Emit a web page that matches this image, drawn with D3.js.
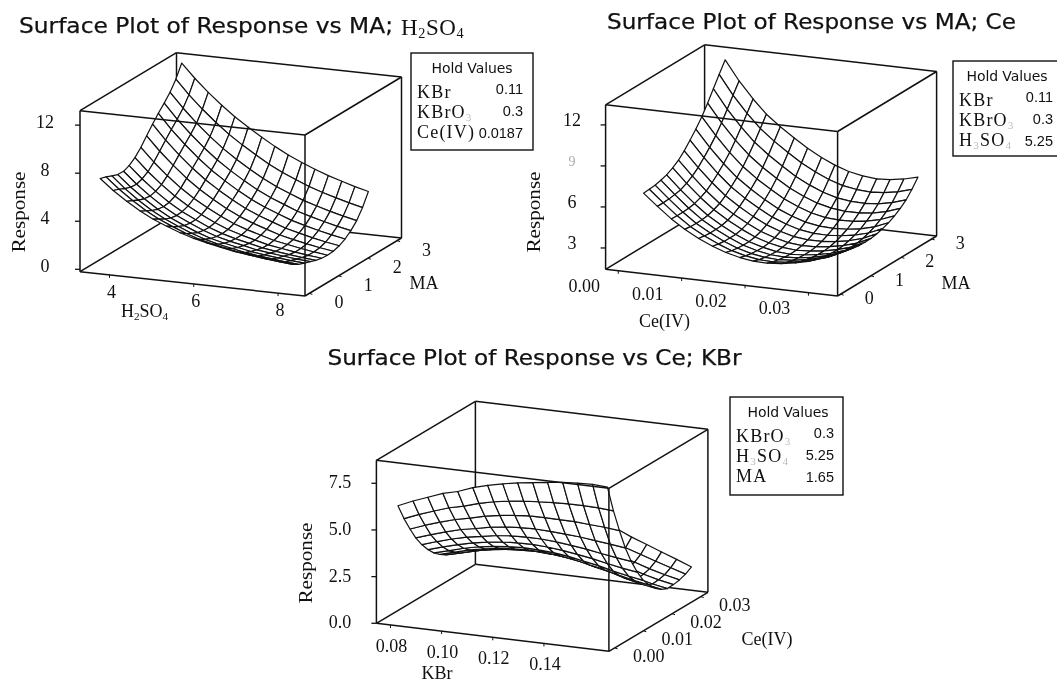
<!DOCTYPE html>
<html>
<head>
<meta charset="utf-8">
<script src="https://cdn.jsdelivr.net/npm/d3@7"></script>
<style>
  html, body { margin: 0; background: #fff; }
  svg { display: block; filter: blur(0.3px); }
</style>
</head>
<body>
<svg id="chart" width="1057" height="682"></svg>
<script>
// --- panel A: Response vs MA; H2SO4
const acidGridA = [3.57, 3.88, 4.2, 4.52, 4.83, 5.15, 5.47, 5.78, 6.1, 6.42, 6.73, 7.05, 7.37, 7.68, 8.0];
const maGridA = [0.15, 0.35, 0.55, 0.75, 0.95, 1.14, 1.34, 1.54, 1.74, 1.94, 2.14, 2.34, 2.54, 2.74, 2.94];
const responseA = [
  [7.22, 6.34, 5.56, 4.87, 4.31, 3.85, 3.42, 3.08, 2.81, 2.58, 2.37, 2.22, 2.09, 1.97, 1.87],
  [7.06, 6.15, 5.33, 4.6, 4.02, 3.52, 3.07, 2.71, 2.42, 2.2, 1.97, 1.82, 1.68, 1.56, 1.46],
  [6.85, 5.91, 5.07, 4.33, 3.74, 3.24, 2.78, 2.41, 2.12, 1.89, 1.66, 1.52, 1.38, 1.26, 1.16],
  [6.67, 5.73, 4.89, 4.14, 3.53, 3.02, 2.56, 2.19, 1.91, 1.68, 1.46, 1.31, 1.17, 1.06, 0.97],
  [6.65, 5.69, 4.82, 4.06, 3.44, 2.92, 2.44, 2.06, 1.78, 1.54, 1.3, 1.16, 1.02, 0.9, 0.81],
  [6.85, 5.85, 4.94, 4.14, 3.49, 2.93, 2.42, 2.02, 1.71, 1.45, 1.19, 1.03, 0.88, 0.75, 0.64],
  [7.22, 6.16, 5.21, 4.36, 3.66, 3.07, 2.52, 2.07, 1.73, 1.43, 1.15, 0.97, 0.79, 0.64, 0.52],
  [7.77, 6.66, 5.65, 4.75, 4.0, 3.35, 2.76, 2.26, 1.87, 1.54, 1.22, 1.01, 0.8, 0.63, 0.48],
  [8.45, 7.28, 6.22, 5.26, 4.45, 3.74, 3.1, 2.56, 2.12, 1.74, 1.39, 1.13, 0.89, 0.69, 0.52],
  [9.12, 7.91, 6.81, 5.81, 4.96, 4.21, 3.53, 2.94, 2.46, 2.05, 1.66, 1.37, 1.1, 0.87, 0.68],
  [9.74, 8.5, 7.38, 6.36, 5.48, 4.71, 4.0, 3.39, 2.87, 2.43, 2.02, 1.71, 1.42, 1.17, 0.95],
  [10.29, 9.06, 7.94, 6.92, 6.03, 5.25, 4.54, 3.91, 3.37, 2.92, 2.49, 2.16, 1.86, 1.59, 1.36],
  [10.9, 9.69, 8.57, 7.57, 6.69, 5.91, 5.19, 4.56, 4.0, 3.53, 3.1, 2.75, 2.43, 2.15, 1.9],
  [11.7, 10.51, 9.43, 8.45, 7.58, 6.81, 6.11, 5.46, 4.89, 4.41, 3.96, 3.59, 3.26, 2.96, 2.69],
  [12.75, 11.6, 10.55, 9.6, 8.75, 8.0, 7.3, 6.65, 6.05, 5.55, 5.1, 4.7, 4.35, 4.02, 3.73],
];
const xTicksA = [4, 6, 8];
const yTicksA = [0, 1, 2, 3];
const zTicksA = [0, 4, 8, 12];
const holdNamesA = ['KBr', 'KBrO_3', 'Ce(IV)'];
const holdValuesA = ['0.11', '0.3', '0.0187'];

// --- panel B: Response vs MA; Ce
const ceGridB = [0.0024, 0.0046, 0.0068, 0.0089, 0.0111, 0.0133, 0.0154, 0.0176, 0.0197, 0.0219, 0.0241, 0.0263, 0.0284, 0.0306, 0.0328];
const maGridB = [0.23, 0.42, 0.61, 0.8, 0.99, 1.19, 1.38, 1.57, 1.76, 1.95, 2.15, 2.34, 2.53, 2.72, 2.92];
const responseB = [
  [6.8, 5.95, 5.15, 4.5, 3.95, 3.5, 3.15, 2.9, 2.75, 2.72, 2.8, 2.97, 3.2, 3.55, 4.03],
  [6.83, 5.95, 5.12, 4.44, 3.88, 3.4, 3.03, 2.77, 2.6, 2.56, 2.64, 2.81, 3.04, 3.37, 3.86],
  [6.87, 5.97, 5.12, 4.42, 3.83, 3.34, 2.95, 2.68, 2.51, 2.46, 2.53, 2.7, 2.92, 3.25, 3.74],
  [6.98, 6.04, 5.16, 4.44, 3.84, 3.33, 2.92, 2.63, 2.45, 2.39, 2.45, 2.61, 2.83, 3.15, 3.65],
  [7.11, 6.13, 5.24, 4.49, 3.87, 3.34, 2.92, 2.62, 2.42, 2.35, 2.41, 2.56, 2.77, 3.09, 3.58],
  [7.35, 6.34, 5.41, 4.64, 3.99, 3.44, 2.99, 2.67, 2.46, 2.37, 2.42, 2.56, 2.76, 3.07, 3.55],
  [7.66, 6.61, 5.64, 4.84, 4.18, 3.61, 3.14, 2.8, 2.56, 2.46, 2.48, 2.61, 2.8, 3.1, 3.57],
  [8.09, 6.98, 5.99, 5.15, 4.46, 3.86, 3.37, 3.0, 2.74, 2.62, 2.62, 2.73, 2.9, 3.19, 3.65],
  [8.61, 7.45, 6.41, 5.54, 4.82, 4.2, 3.68, 3.28, 2.99, 2.84, 2.82, 2.9, 3.06, 3.33, 3.77],
  [9.16, 7.95, 6.87, 5.97, 5.23, 4.58, 4.03, 3.61, 3.29, 3.11, 3.06, 3.12, 3.26, 3.52, 3.94],
  [9.8, 8.54, 7.42, 6.49, 5.72, 5.06, 4.48, 4.03, 3.69, 3.47, 3.4, 3.43, 3.55, 3.79, 4.18],
  [10.54, 9.21, 8.06, 7.1, 6.3, 5.61, 5.01, 4.52, 4.15, 3.9, 3.79, 3.79, 3.89, 4.11, 4.47],
  [11.34, 9.95, 8.76, 7.77, 6.96, 6.25, 5.62, 5.1, 4.69, 4.4, 4.26, 4.23, 4.3, 4.51, 4.83],
  [12.13, 10.72, 9.51, 8.51, 7.7, 6.99, 6.34, 5.8, 5.37, 5.04, 4.87, 4.8, 4.87, 5.05, 5.34],
  [12.93, 11.5, 10.3, 9.3, 8.5, 7.8, 7.15, 6.6, 6.15, 5.8, 5.6, 5.5, 5.55, 5.72, 5.97],
];
const xTicksB = [0, 0.01, 0.02, 0.03];
const yTicksB = [0, 1, 2, 3];
const zTicksB = [3, 6, 9, 12];
const holdNamesB = ['KBr', 'KBrO_3', 'H_3SO_4'];
const holdValuesB = ['0.11', '0.3', '5.25'];

// --- panel C: Response vs Ce; KBr
const kbrGridC = [0.079, 0.0849, 0.0907, 0.0966, 0.1024, 0.1083, 0.1141, 0.12, 0.1258, 0.1317, 0.1375, 0.1434, 0.1492, 0.1551, 0.1609];
const ceGridC = [0.0015, 0.0036, 0.0057, 0.0077, 0.0098, 0.0119, 0.014, 0.0161, 0.0182, 0.0203, 0.0224, 0.0245, 0.0266, 0.0287, 0.0308];
const responseC = [
  [6.05, 6.4, 6.7, 7.0, 7.2, 7.5, 7.72, 7.9, 8.05, 8.16, 8.27, 8.36, 8.42, 8.45, 8.4],
  [5.17, 5.49, 5.77, 6.04, 6.22, 6.47, 6.65, 6.78, 6.88, 6.94, 6.99, 7.02, 7.02, 7.0, 6.93],
  [4.42, 4.72, 4.98, 5.22, 5.39, 5.59, 5.73, 5.83, 5.89, 5.9, 5.89, 5.88, 5.82, 5.77, 5.68],
  [3.76, 4.03, 4.28, 4.5, 4.65, 4.82, 4.93, 4.99, 5.01, 4.98, 4.93, 4.87, 4.77, 4.68, 4.58],
  [3.21, 3.47, 3.7, 3.9, 4.04, 4.18, 4.26, 4.29, 4.28, 4.22, 4.13, 4.03, 3.89, 3.77, 3.66],
  [2.75, 2.99, 3.21, 3.4, 3.53, 3.64, 3.69, 3.7, 3.66, 3.58, 3.46, 3.33, 3.16, 3.01, 2.89],
  [2.38, 2.6, 2.82, 3.0, 3.11, 3.2, 3.24, 3.22, 3.17, 3.06, 2.91, 2.76, 2.56, 2.4, 2.26],
  [2.11, 2.33, 2.54, 2.7, 2.81, 2.89, 2.91, 2.89, 2.81, 2.69, 2.52, 2.35, 2.14, 1.96, 1.82],
  [1.89, 2.1, 2.31, 2.46, 2.57, 2.63, 2.65, 2.61, 2.52, 2.39, 2.2, 2.02, 1.79, 1.6, 1.45],
  [1.74, 1.94, 2.14, 2.3, 2.4, 2.45, 2.46, 2.41, 2.32, 2.17, 1.98, 1.78, 1.54, 1.35, 1.2],
  [1.65, 1.85, 2.05, 2.2, 2.3, 2.35, 2.35, 2.3, 2.2, 2.05, 1.85, 1.65, 1.4, 1.2, 1.05],
  [1.67, 1.87, 2.08, 2.24, 2.35, 2.4, 2.4, 2.36, 2.25, 2.1, 1.89, 1.69, 1.43, 1.23, 1.07],
  [1.71, 1.94, 2.17, 2.35, 2.48, 2.55, 2.56, 2.52, 2.41, 2.24, 2.01, 1.79, 1.53, 1.31, 1.13],
  [1.81, 2.08, 2.36, 2.59, 2.77, 2.87, 2.9, 2.87, 2.75, 2.54, 2.27, 2.01, 1.74, 1.49, 1.25],
  [1.95, 2.3, 2.65, 2.95, 3.2, 3.35, 3.4, 3.4, 3.25, 3.0, 2.65, 2.35, 2.05, 1.75, 1.44],
];
const xTicksC = [0.08, 0.1, 0.12, 0.14];
const yTicksC = [0, 0.01, 0.02, 0.03];
const zTicksC = [0, 2.5, 5, 7.5];
const holdNamesC = ['KBrO_3', 'H_3SO_4', 'MA'];
const holdValuesC = ['0.3', '5.25', '1.65'];

const svg = d3.select('#chart');
const serif = '"Liberation Serif", serif';
const sans = '"DejaVu Sans", sans-serif';
const plain = '"Liberation Sans", sans-serif';

// text with _n parts set as subscripts
const addText = (g, str, x, y, size, family, anchor = 'middle', subFill = '#111') => {
  const t = g
    .append('text')
    .attr('x', x)
    .attr('y', y)
    .attr('text-anchor', anchor)
    .attr('dominant-baseline', 'central')
    .attr('font-family', family)
    .attr('font-size', size)
    .attr('fill', '#111');
  let back = 0;
  str.split(/_(\d)/).forEach((part, i) => {
    if (!part) return;
    if (i % 2) {
      t.append('tspan')
        .attr('font-size', size * 0.62)
        .attr('fill', subFill)
        .attr('dy', size * 0.25)
        .text(part);
      back = -size * 0.25;
    } else {
      t.append('tspan').attr('dy', back).text(part);
      back = 0;
    }
  });
  return t;
};

const drawPanel = (p) => {
  const g = svg.append('g');
  const xScale = d3.scaleLinear().domain(p.xDomain).range([0, 1]);
  const yScale = d3.scaleLinear().domain(p.yDomain).range([0, 1]);
  const zScale = d3.scaleLinear().domain(p.zDomain).range([0, p.rise]);
  const project = (x, y, z) => {
    const u = xScale(x);
    const v = yScale(y);
    return [
      p.origin[0] + u * p.across[0] + v * p.deep[0],
      p.origin[1] + u * p.across[1] + v * p.deep[1] - zScale(z),
    ];
  };
  const [x0, x1] = p.xDomain;
  const [y0, y1] = p.yDomain;
  const [z0, z1] = p.zDomain;
  const seg = (a, b) => ({ a, b });
  const backEdges = [
    seg(project(x0, y1, z0), project(x0, y1, z1)),
    seg(project(x0, y1, z0), project(x1, y1, z0)),
    seg(project(x0, y1, z0), project(x0, y0, z0)),
    seg(project(x0, y1, z1), project(x1, y1, z1)),
    seg(project(x0, y1, z1), project(x0, y0, z1)),
    seg(project(x1, y1, z0), project(x1, y1, z1)),
    seg(project(x1, y1, z1), project(x1, y0, z1)),
    seg(project(x1, y1, z0), project(x1, y0, z0)),
  ];
  const frontEdges = [
    seg(project(x0, y0, z0), project(x0, y0, z1)),
    seg(project(x1, y0, z0), project(x1, y0, z1)),
    seg(project(x0, y0, z0), project(x1, y0, z0)),
    seg(project(x0, y0, z1), project(x1, y0, z1)),
  ];
  const drawEdges = (edges) => {
    g.append('g')
      .selectAll('line')
      .data(edges)
      .join('line')
      .attr('x1', (d) => d.a[0])
      .attr('y1', (d) => d.a[1])
      .attr('x2', (d) => d.b[0])
      .attr('y2', (d) => d.b[1])
      .attr('stroke', '#111')
      .attr('stroke-width', 1.5);
  };
  drawEdges(backEdges);

  // far cells first, left to right, white fill hides what is behind
  const cells = [];
  for (let j = p.ys.length - 2; j >= 0; j--) {
    for (let i = 0; i < p.xs.length - 1; i++) {
      cells.push([
        project(p.xs[i], p.ys[j], p.z[j][i]),
        project(p.xs[i + 1], p.ys[j], p.z[j][i + 1]),
        project(p.xs[i + 1], p.ys[j + 1], p.z[j + 1][i + 1]),
        project(p.xs[i], p.ys[j + 1], p.z[j + 1][i]),
      ]);
    }
  }
  const quad = d3.line().curve(d3.curveLinearClosed);
  g.append('g')
    .selectAll('path')
    .data(cells)
    .join('path')
    .attr('d', (d) => quad(d))
    .attr('fill', '#fff')
    .attr('stroke', '#111')
    .attr('stroke-width', 1.2)
    .attr('stroke-linejoin', 'round');

  drawEdges(frontEdges);

  // response ticks
  p.zTicks.forEach((t) => {
    const [px, py] = project(x0, y0, t);
    g.append('line')
      .attr('x1', px - 5)
      .attr('x2', px)
      .attr('y1', py)
      .attr('y2', py)
      .attr('stroke', '#111')
      .attr('stroke-width', 1.3);
    const lab = addText(g, p.zFormat(t), p.zLabelX, py + p.zLabelDy, 18, serif);
    if (p.faint && p.faint.includes(t)) lab.attr('fill', '#aaa').attr('font-size', 14);
  });
  p.xTicks.forEach((t) => {
    const [px, py] = project(t, y0, z0);
    g.append('line')
      .attr('x1', px)
      .attr('x2', px)
      .attr('y1', py)
      .attr('y2', py + 3)
      .attr('stroke', '#111');
    addText(g, p.xFormat(t), px + p.xLabelOff[0], py + p.xLabelOff[1], 18, serif);
  });
  p.yTicks.forEach((t) => {
    const [px, py] = project(x1, t, z0);
    g.append('line')
      .attr('x1', px)
      .attr('x2', px + 3)
      .attr('y1', py)
      .attr('y2', py + 1)
      .attr('stroke', '#111');
    addText(g, p.yFormat(t), px + p.yLabelOff[0], py + p.yLabelOff[1], 18, serif);
  });

  addText(g, p.xTitle, p.xTitlePos[0], p.xTitlePos[1], 18, serif);
  addText(g, p.yTitle, p.yTitlePos[0], p.yTitlePos[1], 18, serif);
  addText(g, 'Response', 0, 0, 18, serif)
    .attr('transform', `translate(${p.respPos[0]},${p.respPos[1]}) rotate(-90)`)
    .attr('textLength', 81)
    .attr('lengthAdjust', 'spacingAndGlyphs');

  // title
  addText(g, p.title, p.titlePos[0], p.titlePos[1], 21, sans, 'start')
    .attr('textLength', p.titleLen)
    .attr('lengthAdjust', 'spacingAndGlyphs')
    .attr('stroke', '#111')
    .attr('stroke-width', 0.25);
  if (p.titleTail) {
    addText(g, p.titleTail, p.tailPos[0], p.tailPos[1], 23, serif, 'start')
      .attr('letter-spacing', 0.6);
  }

  // hold values box
  const b = p.box;
  g.append('rect')
    .attr('x', b.x)
    .attr('y', b.y)
    .attr('width', b.w)
    .attr('height', b.h)
    .attr('fill', '#fff')
    .attr('stroke', '#111')
    .attr('stroke-width', 1.4);
  addText(g, 'Hold Values', b.x + b.headX, b.y + 15, 14, sans).attr('textLength', 81);
  p.holdNames.forEach((n, i) => {
    addText(g, n, b.x + 6, b.y + 39 + i * 20, 18, serif, 'start', '#bbb').attr('letter-spacing', 1.2);
    addText(g, p.holdValues[i], b.x + b.valX, b.y + 36 + i * 22, 14.5, plain, 'end');
  });
};

const fmt2 = d3.format('.2f');
const fmt1 = d3.format('.1f');
const fmt0 = d3.format('d');

drawPanel({
  title: 'Surface Plot of Response vs MA;',
  titleTail: 'H_2SO_4',
  titlePos: [19, 26],
  titleLen: 374,
  tailPos: [401, 27],
  xs: acidGridA,
  ys: maGridA,
  z: responseA,
  xDomain: [3.3, 8.64],
  yDomain: [-0.15, 3.15],
  zDomain: [-0.2, 13.2],
  origin: [80, 271.7],
  across: [225, 24.3],
  deep: [96.5, -58],
  rise: 161,
  xTicks: xTicksA,
  yTicks: yTicksA,
  zTicks: zTicksA,
  xFormat: fmt0,
  yFormat: fmt0,
  zFormat: fmt0,
  zLabelX: 45,
  zLabelDy: -3,
  xLabelOff: [2, 17],
  yLabelOff: [29.5, 9],
  xTitle: 'H_2SO_4',
  xTitlePos: [144.6, 311],
  yTitle: 'MA',
  yTitlePos: [424, 283],
  respPos: [19, 212],
  box: { x: 411, y: 53, w: 122, h: 97, headX: 61, valX: 112 },
  holdNames: holdNamesA,
  holdValues: holdValuesA,
});

drawPanel({
  title: 'Surface Plot of Response vs MA; Ce',
  titlePos: [607, 22],
  titleLen: 409,
  xs: ceGridB,
  ys: maGridB,
  z: responseB,
  xDomain: [-0.002, 0.0346],
  yDomain: [-0.1, 3.16],
  zDomain: [1.44, 13.47],
  origin: [605.6, 269.3],
  across: [232, 26.7],
  deep: [99, -60],
  rise: 164.5,
  xTicks: xTicksB,
  yTicks: yTicksB,
  zTicks: zTicksB,
  faint: [9],
  xFormat: fmt2,
  yFormat: fmt0,
  zFormat: fmt0,
  zLabelX: 572,
  zLabelDy: -5,
  xLabelOff: [-34, 15.5],
  yLabelOff: [28.5, 4],
  xTitle: 'Ce(IV)',
  xTitlePos: [664.5, 321],
  yTitle: 'MA',
  yTitlePos: [956, 283],
  respPos: [534, 212],
  box: { x: 953, y: 61, w: 112, h: 95, headX: 54, valX: 100 },
  holdNames: holdNamesB,
  holdValues: holdValuesB,
});

drawPanel({
  title: 'Surface Plot of Response vs Ce; KBr',
  titlePos: [327.5, 358],
  titleLen: 414,
  xs: kbrGridC,
  ys: ceGridC,
  z: responseC,
  xDomain: [0.0745, 0.1654],
  yDomain: [-0.002, 0.0325],
  zDomain: [0, 8.73],
  origin: [376.4, 623.3],
  across: [232.5, 28],
  deep: [99, -59],
  rise: 163,
  xTicks: xTicksC,
  yTicks: yTicksC,
  zTicks: zTicksC,
  xFormat: fmt2,
  yFormat: fmt2,
  zFormat: fmt1,
  zLabelX: 340,
  zLabelDy: -1,
  xLabelOff: [1, 21],
  yLabelOff: [34, 8],
  xTitle: 'KBr',
  xTitlePos: [437, 673],
  yTitle: 'Ce(IV)',
  yTitlePos: [767, 639],
  respPos: [306, 563],
  box: { x: 730, y: 397, w: 113, h: 98, headX: 58, valX: 104 },
  holdNames: holdNamesC,
  holdValues: holdValuesC,
});
</script>
</body>
</html>
